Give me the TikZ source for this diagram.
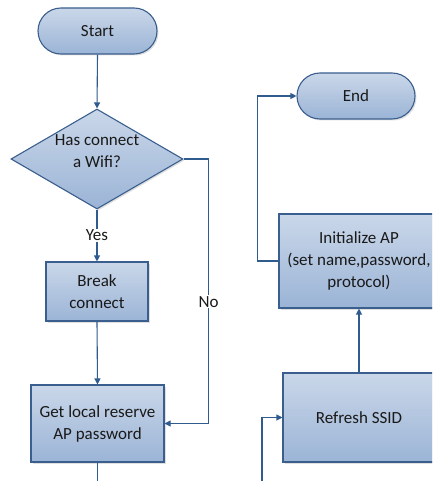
\documentclass[tikz,border=0pt]{standalone}
\usepackage{fontspec}
\setmainfont{Carlito}
\usetikzlibrary{shapes.geometric,arrows.meta,shadows}
\definecolor{topc}{HTML}{CAD7E9}
\definecolor{botc}{HTML}{9BB4D6}
\definecolor{edgec}{HTML}{3A5F8E}
\definecolor{linec}{HTML}{2F5B8E}
\tikzset{
  base/.style={draw=edgec, line width=1.1pt, top color=topc, bottom color=botc,
    drop shadow={shadow xshift=1.5pt, shadow yshift=-1.5pt, opacity=0.25},
    font=\fontsize{17}{22}\selectfont, align=center, inner sep=0pt, text=black!90},
  term/.style={base, rectangle, rounded corners=23pt, minimum width=119pt, minimum height=46pt},
  proc/.style={base, rectangle},
  dec/.style={base, diamond, minimum width=172pt, minimum height=100pt},
  conn/.style={draw=linec, line width=1.1pt},
  arr/.style={conn, -{Triangle[length=6pt,width=6pt]}},
  lab/.style={fill=white, inner sep=1pt, font=\fontsize{17}{22}\selectfont, text=black!90}
}
\begin{document}
\begin{tikzpicture}[x=1pt,y=-1pt]
\useasboundingbox (0,0) rectangle (432,481);
\clip (0,0) rectangle (432,481);
\node[term] (start) at (97.5,31) {Start};
\node[dec, label={[align=center, yshift=8pt, font=\fontsize{17}{22}\selectfont, text=black!90]center:Has connect\\a Wifi?}] (dia) at (97,159) {};
\node[proc, minimum width=102pt, minimum height=59pt] (brk) at (97,291.5) {Break\\connect};
\node[proc, minimum width=133pt, minimum height=77pt] (get) at (97.5,423.5) {Get local reserve\\AP password};
\node[term, minimum width=118pt] (end) at (356,96) {End};
\node[proc, minimum width=160pt, minimum height=94pt] (init) at (359,261) {Initialize AP\\(set name,password,\\protocol)};
\node[proc, minimum width=152pt, minimum height=89pt] (ref) at (359,417.5) {Refresh SSID};
\coordinate (gout) at (97.5,495);
\coordinate (rin) at (262,495);

\draw[arr] (start.south) -- (dia.north);
\draw[arr] (dia.south) -- node[lab]{Yes} (brk.north);
\draw[arr] (brk.south) -- (get.north);
\draw[arr] (dia.east) -- ++(25,0) coordinate (n1) -- (n1 |- get.east) node[pos=0.54, lab]{No} -- (get.east);
\draw[conn] (get.south) -- (gout);
\draw[arr] (init.west) -- ++(-21,0) |- (end.west);
\draw[arr] (ref.north) -- (init.south);
\draw[arr] (rin) |- (ref.west);
\end{tikzpicture}
\end{document}
